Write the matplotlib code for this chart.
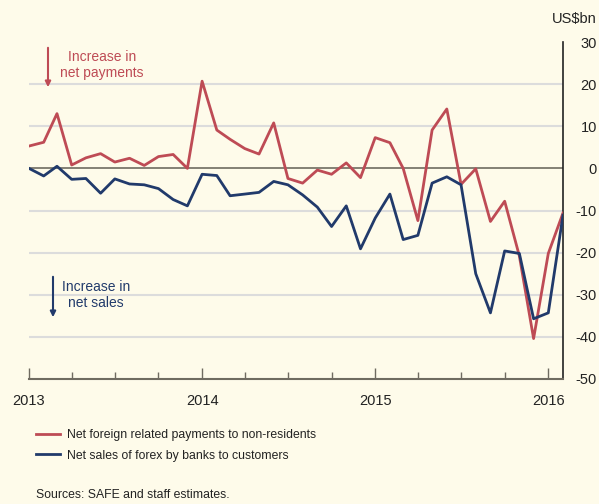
import matplotlib
matplotlib.use("Agg")
import matplotlib.pyplot as plt
import matplotlib.dates as mdates
from matplotlib.patches import FancyArrowPatch
import pandas as pd

# Monthly data, Jan 2013 - Feb 2016 (US$bn)
months = pd.date_range("2013-01-01", periods=38, freq="MS")
payments = [5.3, 6.2, 13.0, 0.8, 2.5, 3.5, 1.5, 2.4, 0.7, 2.8,
            3.3, 0.0, 20.7, 9.1, 6.9, 4.7, 3.4, 10.8, -2.4, -3.5,
            -0.4, -1.4, 1.3, -2.2, 7.3, 6.1, 0.0, -12.4, 9.1, 14.1,
            -3.8, -0.1, -12.6, -7.8, -20.8, -40.4, -20.2, -10.6]
forex_sales = [0.0, -1.8, 0.5, -2.6, -2.4, -5.9, -2.5, -3.7, -3.9, -4.8,
               -7.4, -8.9, -1.4, -1.7, -6.5, -6.1, -5.7, -3.1, -3.9, -6.3,
               -9.2, -13.8, -8.9, -19.1, -11.8, -6.1, -16.9, -15.9, -3.5, -2.0,
               -3.9, -25.0, -34.3, -19.6, -20.2, -35.7, -34.3, -11.1]
yticks = [30, 20, 10, 0, -10, -20, -30, -40, -50]

bg = "#FEFBEA"
red = "#BE4B55"
blue = "#213A6B"

plt.rcParams["font.family"] = ["Liberation Sans", "DejaVu Sans"]

fig = plt.figure(figsize=(5.99, 5.04), dpi=100, facecolor=bg)
ax = fig.add_axes([29 / 599, 1 - 379 / 504, 534 / 599, 337 / 504], facecolor=bg)

# gridlines (none at the top or bottom limits)
for v in [20, 10, -10, -20, -30, -40]:
    ax.axhline(v, color="#DCDCDC", lw=1.5, zorder=0)
ax.axhline(0, color="#6F6B60", lw=1.2, zorder=1)

ax.plot(months, payments, color=red, lw=2, zorder=3,
        label="Net foreign related payments to non-residents")
ax.plot(months, forex_sales, color=blue, lw=2, zorder=3,
        label="Net sales of forex by banks to customers")

ax.set_ylim(-50, 30)
ax.set_xlim(pd.Timestamp("2013-01-01"), pd.Timestamp("2016-02-01"))

# right-hand axis, labels right-aligned near the figure edge
ax.yaxis.tick_right()
ax.set_yticks(yticks)
ax.set_yticklabels([str(v) for v in yticks])
ax.tick_params(axis="y", length=0, pad=24.5, labelsize=10.5, labelcolor="#222222")
for lab in ax.get_yticklabels():
    lab.set_horizontalalignment("right")

ax.xaxis.set_major_locator(mdates.YearLocator())
ax.xaxis.set_major_formatter(mdates.DateFormatter("%Y"))
ax.xaxis.set_minor_locator(mdates.MonthLocator(bymonth=[1, 4, 7, 10]))
ax.tick_params(axis="x", which="major", direction="in", length=8, width=1,
               color="#6F6B60", pad=11, labelsize=10.5, labelcolor="#222222")
ax.tick_params(axis="x", which="minor", direction="in", length=5, width=1,
               color="#6F6B60")

for s in ["top", "left"]:
    ax.spines[s].set_visible(False)
ax.spines["right"].set_color("#222222")
ax.spines["right"].set_linewidth(1.2)
ax.spines["bottom"].set_color("#6F6B60")
ax.spines["bottom"].set_linewidth(1.5)

fig.text(597 / 599, 1 - 19 / 504, "US$bn", ha="right", va="center",
         fontsize=10.5, color="#222222")

# annotations
fig.text(102 / 599, 1 - 65 / 504, "Increase in\nnet payments", ha="center",
         va="center", fontsize=10, color=red, linespacing=1.1)
fig.text(96 / 599, 1 - 295 / 504, "Increase in\nnet sales", ha="center",
         va="center", fontsize=10, color=blue, linespacing=1.1)

arrow_pts = [((48, 45), (48, 90), red), ((53, 274), (53, 320), blue)]
for (x0, y0), (x1, y1), c in arrow_pts:
    fig.patches.append(FancyArrowPatch(
        (x0 / 599, 1 - y0 / 504), (x1 / 599, 1 - y1 / 504),
        transform=fig.transFigure, arrowstyle="-|>", mutation_scale=8,
        color=c, lw=1.5))

fig.legend(loc="upper left", bbox_to_anchor=(36 / 599, 1 - 429 / 504),
           frameon=False, fontsize=8.8, labelcolor="#222222",
           handlelength=2.0, handletextpad=0.55,
           labelspacing=0.7, borderaxespad=0, borderpad=0)

fig.text(36 / 599, 1 - 495 / 504, "Sources: SAFE and staff estimates.",
         ha="left", va="center", fontsize=8.8, color="#222222")

fig.savefig("out.png", dpi=100, facecolor=bg)
